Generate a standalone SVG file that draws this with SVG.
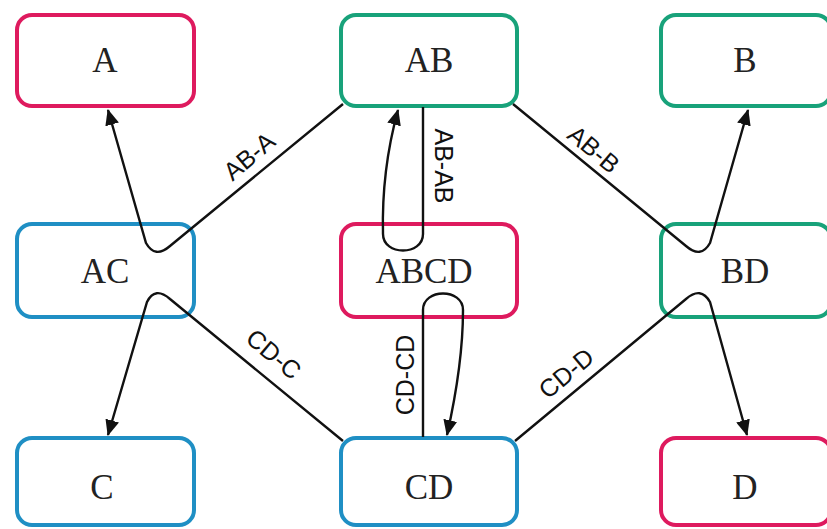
<svg xmlns="http://www.w3.org/2000/svg" width="827" height="529" viewBox="0 0 827 529">
<style>
.box{fill:#fff;stroke-width:4}
.pink{stroke:#de1a5e}
.green{stroke:#18a27a}
.blue{stroke:#1f8fc4}
.nl{font-family:"Liberation Serif","Times New Roman",serif;font-size:35px;fill:#222;text-anchor:middle}
.el{font-family:"Liberation Sans",Arial,sans-serif;font-size:25px;fill:#111;text-anchor:middle}
.edge{fill:none;stroke:#111;stroke-width:2.4}
</style>
<defs>
<marker id="ah" markerUnits="userSpaceOnUse" markerWidth="16" markerHeight="14" viewBox="0 0 16 14" refX="15" refY="7" orient="auto">
<path d="M0,0 L16,7 L0,14 Z" fill="#111"/>
</marker>
</defs>
<rect width="827" height="529" fill="#fff"/>
<g id="node-A"><rect class="box pink" x="17" y="15" width="177" height="91" rx="15"/><text class="nl" x="105" y="72">A</text></g>
<g id="node-AB"><rect class="box green" x="341" y="15" width="176" height="91" rx="15"/><text class="nl" x="429" y="72">AB</text></g>
<g id="node-B"><rect class="box green" x="661" y="15" width="170" height="91" rx="15"/><text class="nl" x="745" y="72">B</text></g>
<g id="node-AC"><rect class="box blue" x="17" y="224" width="177" height="93" rx="15"/><text class="nl" x="105" y="283">AC</text></g>
<g id="node-ABCD"><rect class="box pink" x="341" y="224" width="176" height="93" rx="15"/><text class="nl" x="424" y="283">ABCD</text></g>
<g id="node-BD"><rect class="box green" x="661" y="224" width="170" height="93" rx="15"/><text class="nl" x="745" y="283">BD</text></g>
<g id="node-C"><rect class="box blue" x="17" y="438" width="177" height="87" rx="15"/><text class="nl" x="102" y="499">C</text></g>
<g id="node-CD"><rect class="box blue" x="341" y="438" width="176" height="87" rx="15"/><text class="nl" x="429" y="499">CD</text></g>
<g id="node-D"><rect class="box pink" x="661" y="438" width="170" height="87" rx="15"/><text class="nl" x="745" y="499">D</text></g>
<g id="connectors">
<path class="edge" marker-end="url(#ah)" d="M343,104 L170,246 Q155,259 146,243 L108,110"/>
<path class="edge" marker-end="url(#ah)" d="M513,104 L686,246 Q701,259 710,243 L748,110"/>
<path class="edge" marker-end="url(#ah)" d="M343,441 L170,299 Q155,286 147,302 L108,435"/>
<path class="edge" marker-end="url(#ah)" d="M515,441 L686,299 Q701,286 710,302 L747,435"/>
<path class="edge" marker-end="url(#ah)" d="M423,107 V234 C423,256 383,256 383,234 C382,195 387,150 398,110"/>
<path class="edge" marker-end="url(#ah)" d="M423,437 V310 C423,288 463,288 463,310 C463,350 456,395 447,435"/>
<text class="el" transform="translate(249,156) rotate(-40)" dy="9">AB-A</text>
<text class="el" transform="translate(594,149) rotate(40)" dy="9">AB-B</text>
<text class="el" transform="translate(274,354) rotate(40)" dy="9">CD-C</text>
<text class="el" transform="translate(566,373) rotate(-40)" dy="9">CD-D</text>
<text class="el" transform="translate(444,166) rotate(90)" dy="9">AB-AB</text>
<text class="el" transform="translate(405,375) rotate(-90)" dy="9">CD-CD</text>
</g>
</svg>
